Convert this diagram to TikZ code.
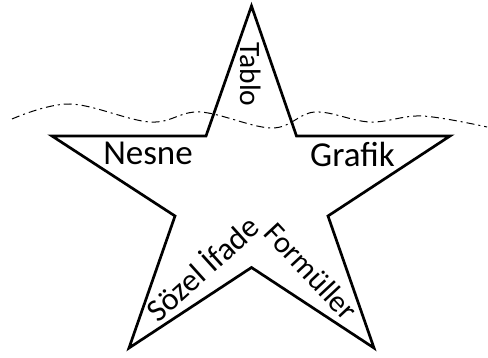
\documentclass[tikz,border=0pt]{standalone}
\usepackage{fontspec}
\setmainfont{Carlito}
\begin{document}
\begin{tikzpicture}[x=1pt,y=-1pt,
  starline/.style={line width=2.7pt,line join=miter},
  wave/.style={line width=1pt,dash pattern=on 8pt off 4pt on 2pt off 4pt},
  lbl/.style={inner sep=0pt,font=\fontsize{35}{40}\selectfont}]
\useasboundingbox (0,0) rectangle (488,358);
\coordinate (t) at (251.5,6);
\coordinate (iur) at (296.5,136);
\coordinate (rt) at (450,136);
\coordinate (ir) at (328,216);
\coordinate (br) at (374,348);
\coordinate (ib) at (251.5,267.5);
\coordinate (bl) at (129,348);
\coordinate (il) at (175,216);
\coordinate (lt) at (52,136);
\coordinate (iul) at (206,136);
\draw[starline] (t) -- (iur) -- (rt) -- (ir) -- (br) -- (ib) -- (bl) -- (il) -- (lt) -- (iul) -- cycle;
\draw[wave] plot[smooth,tension=0.6] coordinates {(12,119) (70,104) (150,122) (200,112) (272,128) (315,112) (370,122) (422,116) (487,127)};
\node[lbl,anchor=base,font=\fontsize{29.5}{34}\selectfont,rotate=-90] (tablo) at (240,74.5) {Tablo};
\node[lbl,anchor=base] (nesne) at (148,164.5) {Nesne};
\node[lbl,anchor=base] (grafik) at (352.5,167) {Grafik};
\node[lbl,font=\fontsize{32}{38}\selectfont,rotate=42] (sozel) at (201.5,267) {Sözel İfade};
\node[lbl,font=\fontsize{30.5}{36}\selectfont,rotate=-47] (formul) at (311,271) {Formüller};
\end{tikzpicture}
\end{document}
